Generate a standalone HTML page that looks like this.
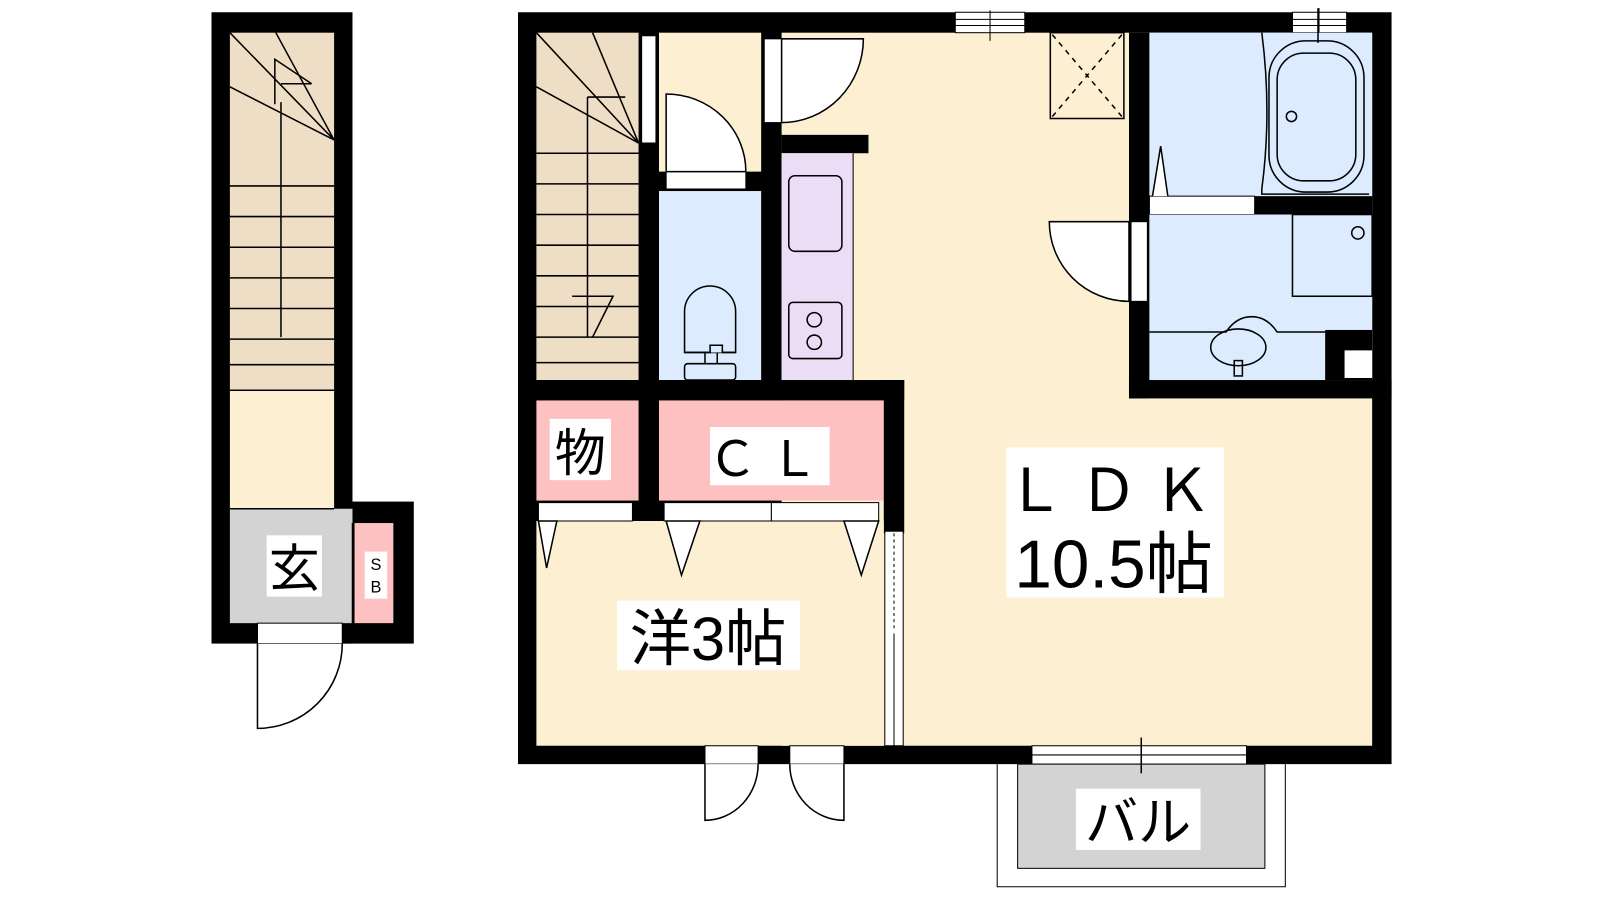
<!DOCTYPE html>
<html><head><meta charset="utf-8"><style>
html,body{margin:0;padding:0;background:#fff;width:1600px;height:900px;overflow:hidden}
svg{display:block}
text{font-family:"Liberation Sans","Noto Sans CJK JP",sans-serif;fill:#000}
</style></head><body>
<svg width="1600" height="900" viewBox="0 0 1566 881" preserveAspectRatio="none" xmlns="http://www.w3.org/2000/svg">
<rect width="1566" height="881" fill="#fff"/>
<!-- LEFT UNIT -->
<rect x="207" y="12" width="138" height="618" fill="#000"/>
<rect x="327" y="491" width="78" height="139" fill="#000"/>
<rect x="225" y="32" width="102" height="350" fill="#EEDEC5"/>
<rect x="225" y="382" width="102" height="116" fill="#FDF0D2"/>
<rect x="225" y="498" width="120" height="112" fill="#D3D3D3"/>
<rect x="347" y="512" width="38" height="98" fill="#FDC1C1"/>
<g stroke="#000" stroke-width="1.5" fill="none">
<line x1="225" y1="382" x2="327" y2="382"/>
<line x1="225" y1="498" x2="327" y2="498"/>
<line x1="345" y1="512" x2="345" y2="610"/>
<path d="M225 32 L327 137 M270 32 L327 137 M225 85 L327 137"/>
<path d="M225 182H327M225 212H327M225 242H327M225 272H327M225 302H327M225 332H327M225 357H327"/>
<line x1="275" y1="100" x2="275" y2="330"/>
<path d="M269 102 L269 58 L305 82 M275 82 H305"/>
</g>
<rect x="252" y="610" width="83" height="20" fill="#fff" stroke="#000" stroke-width="1"/>
<line x1="252" y1="630" x2="335" y2="630" stroke="#000"/>
<path d="M252 630 V713 A83 83 0 0 0 335 630" fill="#fff" stroke="#000" stroke-width="1.5"/>
<rect x="261" y="524" width="54" height="60" fill="#fff"/>
<text x="288" y="574" font-size="50" text-anchor="middle">玄</text>
<rect x="357" y="540" width="22" height="46" fill="#fff"/>
<text x="368" y="558" font-size="16" text-anchor="middle">S</text>
<text x="368" y="580" font-size="16" text-anchor="middle">B</text>

<!-- MAIN OUTER -->
<rect x="507" y="12" width="855" height="736" fill="#000"/>
<rect x="765" y="32" width="578" height="698" fill="#FDF0D2"/>
<rect x="765" y="132" width="85" height="18" fill="#000"/>
<!-- stairs -->
<rect x="525" y="32" width="100" height="340" fill="#EEDEC5"/>
<g stroke="#000" stroke-width="1.5" fill="none">
<path d="M525 32 L625 140 M580 32 L625 140 M525 85 L625 140"/>
<path d="M525 150H625M525 180H625M525 210H625M525 240H625M525 270H625M525 300H625M525 330H625M525 355H625"/>
<line x1="575" y1="95" x2="575" y2="330"/>
<path d="M575 95 H612 M560 290 H600 L580 330"/>
</g>
<rect x="628" y="35" width="14" height="105" fill="#fff" stroke="#000" stroke-width="1"/>
<!-- hall -->
<rect x="645" y="32" width="100" height="136" fill="#FDF0D2"/>
<rect x="652" y="168" width="78" height="17" fill="#fff" stroke="#000" stroke-width="1"/>
<path d="M652 168 V92 A78 76 0 0 1 730 168 Z" fill="#fff" stroke="#000" stroke-width="1.5"/>
<!-- top door -->
<rect x="748" y="38" width="17" height="82" fill="#fff" stroke="#000" stroke-width="1"/>
<path d="M765 120 V38 H845 A80 82 0 0 1 765 120 Z" fill="#fff" stroke="#000" stroke-width="1.5"/>
<!-- toilet -->
<rect x="645" y="187" width="100" height="185" fill="#DCEBFD"/>
<g stroke="#000" stroke-width="1.5" fill="#DCEBFD">
<path d="M670 345 V305 A25 25 0 0 1 720 305 V345 Z"/>
<path d="M670 345 H695 V338 H707 V345 H720"/>
<rect x="670" y="356" width="50" height="16" rx="3"/>
<line x1="690" y1="345" x2="690" y2="356"/><line x1="702" y1="345" x2="702" y2="356"/>
</g>
<!-- kitchen -->
<rect x="765" y="150" width="70" height="222" fill="#EBDDF5"/>
<line x1="835" y1="150" x2="835" y2="372" stroke="#000" stroke-width="1"/>
<g stroke="#000" stroke-width="1.5" fill="none">
<rect x="772" y="172" width="52" height="74" rx="6"/>
<rect x="772" y="296" width="52" height="55" rx="4"/>
<circle cx="797" cy="313" r="7"/><circle cx="797" cy="335" r="7"/>
</g>
<!-- 物, CL -->
<rect x="507" y="372" width="378" height="20" fill="#000"/>
<rect x="525" y="392" width="100" height="98" fill="#FDC1C1"/>
<rect x="645" y="392" width="220" height="98" fill="#FDC1C1"/>
<rect x="865" y="372" width="20" height="150" fill="#000"/>
<rect x="525" y="510" width="340" height="220" fill="#FDF0D2"/>
<rect x="527" y="492" width="92" height="18" fill="#fff" stroke="#000" stroke-width="1"/>
<rect x="650" y="492" width="105" height="18" fill="#fff" stroke="#000" stroke-width="1"/>
<rect x="755" y="492" width="105" height="18" fill="#fff" stroke="#000" stroke-width="1"/>
<g fill="#fff" stroke="#000" stroke-width="1.5">
<path d="M527 510 L545 510 L535 556 Z"/>
<path d="M652 510 L685 510 L667 563 Z"/>
<path d="M826 510 L860 510 L843 563 Z"/>
</g>
<!-- sliding partition -->
<rect x="866" y="520" width="18" height="210" fill="#fff" stroke="#000" stroke-width="1"/>
<line x1="875" y1="522" x2="875" y2="618" stroke="#000" stroke-width="1" stroke-dasharray="3,3"/>
<line x1="875" y1="620" x2="875" y2="730" stroke="#000" stroke-width="1"/>
<!-- labels -->
<rect x="538" y="410" width="60" height="60" fill="#fff"/>
<text x="568" y="461" font-size="50" text-anchor="middle">物</text>
<rect x="695" y="418" width="117" height="57" fill="#fff"/>
<text x="753" y="466" font-size="48" text-anchor="middle" letter-spacing="12">ＣＬ</text>
<rect x="604" y="588" width="179" height="68" fill="#fff"/>
<text x="693" y="646" font-size="60" text-anchor="middle">洋3帖</text>
<!-- bottom doors -->
<rect x="690" y="730" width="52" height="18" fill="#fff" stroke="#000" stroke-width="1"/>
<rect x="773" y="730" width="53" height="18" fill="#fff" stroke="#000" stroke-width="1"/>
<path d="M690 748 V803 A52 55 0 0 0 742 748" fill="#fff" stroke="#000" stroke-width="1.5"/>
<path d="M826 748 V803 A53 55 0 0 1 773 748" fill="#fff" stroke="#000" stroke-width="1.5"/>
<!-- top windows -->
<rect x="935" y="12" width="68" height="20" fill="#fff" stroke="#000" stroke-width="1"/>
<path d="M935 19H1003M935 25H1003M969 10V40" stroke="#000" stroke-width="1"/>
<rect x="1265" y="12" width="53" height="20" fill="#fff" stroke="#000" stroke-width="1"/>
<path d="M1265 19H1318M1265 25H1318M1291 8V40" stroke="#000" stroke-width="1"/>
<!-- fridge -->
<rect x="1028" y="32" width="72" height="84" fill="none" stroke="#000" stroke-width="1.5"/>
<path d="M1030 34 L1098 114 M1098 34 L1030 114" stroke="#000" stroke-width="1.5" stroke-dasharray="5,5"/>
<!-- bath block -->
<rect x="1105" y="32" width="20" height="358" fill="#000"/>
<rect x="1105" y="372" width="257" height="18" fill="#000"/>
<rect x="1125" y="32" width="218" height="160" fill="#DCEBFD"/>
<rect x="1228" y="192" width="115" height="18" fill="#000"/>
<rect x="1125" y="192" width="103" height="18" fill="#fff" stroke="#000" stroke-width="1"/>
<rect x="1125" y="210" width="218" height="162" fill="#DCEBFD"/>
<rect x="1297" y="323" width="46" height="49" fill="#000"/>
<rect x="1316" y="343" width="27" height="27" fill="#fff"/>
<path d="M1128 192 L1136 143 L1143 192" fill="#fff" stroke="#000" stroke-width="1.5"/>
<g stroke="#000" stroke-width="1.5" fill="none">
<path d="M1235 32 Q1245 110 1235 185 V190 H1340"/>
<rect x="1242" y="40" width="93" height="148" rx="36"/>
<rect x="1250" y="52" width="77" height="125" rx="26"/>
<circle cx="1264" cy="114" r="5"/>
<path d="M1290 8 V42"/>
<rect x="1265" y="210" width="78" height="80"/>
<circle cx="1329" cy="228" r="6"/>
<path d="M1125 325 H1200 Q1210 310 1225 310 Q1240 310 1250 325 H1297"/>
<ellipse cx="1212" cy="340" rx="27" ry="18"/>
<rect x="1208" y="353" width="8" height="15"/>
</g>
<!-- washroom door -->
<rect x="1107" y="217" width="16" height="78" fill="#fff" stroke="#000" stroke-width="1"/>
<path d="M1105 217 H1027 A78 78 0 0 0 1105 295 Z" fill="#fff" stroke="#000" stroke-width="1.5"/>
<!-- LDK label -->
<rect x="985" y="438" width="213" height="147" fill="#fff"/>
<text x="1092" y="500" font-size="58" text-anchor="middle" letter-spacing="14">ＬＤＫ</text>
<text x="1090" y="575" font-size="66" text-anchor="middle">10.5帖</text>
<!-- balcony -->
<rect x="1010" y="730" width="210" height="18" fill="#fff" stroke="#000" stroke-width="1"/>
<path d="M1010 739H1220" stroke="#000" stroke-width="1"/>
<path d="M976 748 V868 H1258 V748" fill="none" stroke="#000" stroke-width="1"/>
<rect x="996" y="748" width="242" height="102" fill="#D3D3D3" stroke="#000" stroke-width="1"/>
<line x1="1117" y1="722" x2="1117" y2="757" stroke="#000" stroke-width="1.5"/>
<rect x="1053" y="772" width="122" height="60" fill="#fff"/>
<text x="1114" y="823" font-size="52" text-anchor="middle">バル</text>
</svg>
</body></html>
